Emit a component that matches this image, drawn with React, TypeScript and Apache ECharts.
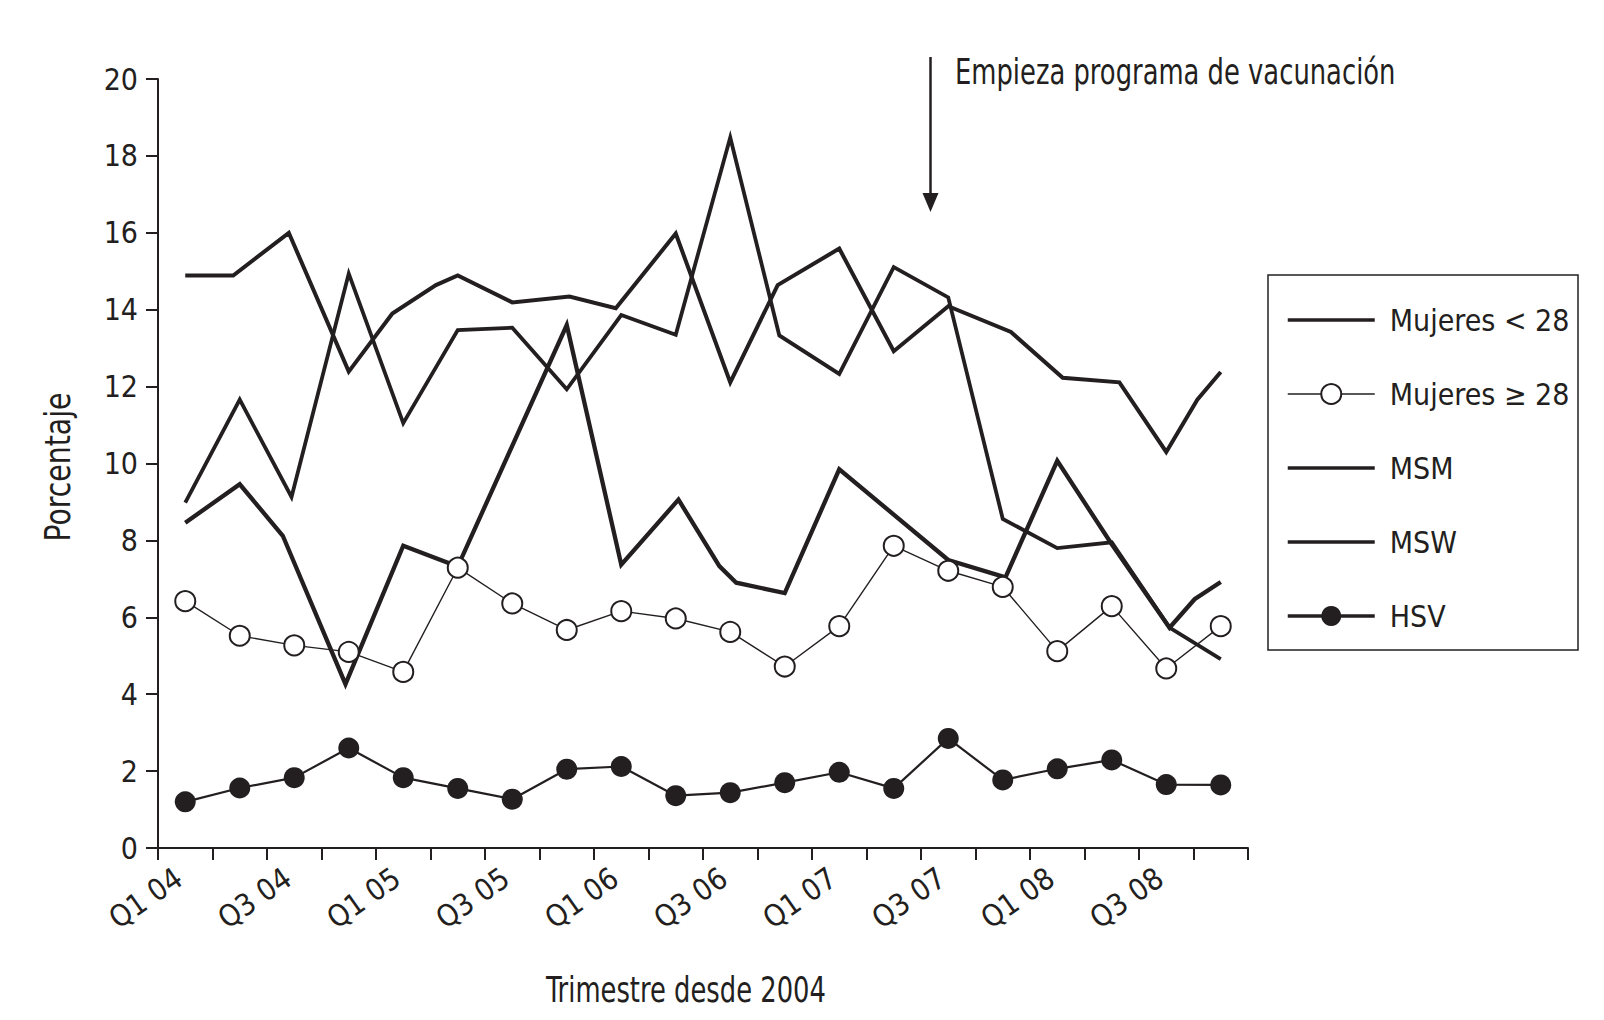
import React, { useEffect, useRef } from 'react';
import * as echarts from 'echarts';

const FONT = '"Liberation Sans Narrow", "Arial Narrow", "DejaVu Sans Condensed", sans-serif';
const INK = '#231f20';

const categories = [
  'Q1 04', 'Q2 04', 'Q3 04', 'Q4 04',
  'Q1 05', 'Q2 05', 'Q3 05', 'Q4 05',
  'Q1 06', 'Q2 06', 'Q3 06', 'Q4 06',
  'Q1 07', 'Q2 07', 'Q3 07', 'Q4 07',
  'Q1 08', 'Q2 08', 'Q3 08', 'Q4 08',
];

const seriesNames = ['Mujeres < 28', 'Mujeres \u2265 28', 'MSM', 'MSW', 'HSV'];

// [quarter index, percentage]
const mujeresMenor28: [number, number][] = [
  [0, 8.98], [1, 11.66], [1.95, 9.13], [3, 14.94], [4, 11.05], [5, 13.47], [6, 13.53],
  [7, 11.93], [8, 13.86], [9, 13.35], [10, 18.48], [10.9, 13.33], [12, 12.33], [13, 15.11],
  [14, 14.32], [15, 8.56], [16, 7.8], [17, 7.95], [18.06, 5.73], [19, 4.91],
];

const mujeresMayor28 = [
  6.42, 5.52, 5.27, 5.1, 4.58, 7.29, 6.36, 5.67, 6.16, 5.97,
  5.62, 4.72, 5.77, 7.86, 7.21, 6.79, 5.12, 6.29, 4.67, 5.77,
];

const msm: [number, number][] = [
  [0, 8.46], [1, 9.46], [1.79, 8.12], [2.94, 4.26], [4, 7.86], [5, 7.32], [7, 13.6],
  [8, 7.37], [9.05, 9.06], [9.8, 7.33], [10.11, 6.9], [11, 6.63], [12, 9.85], [14, 7.49],
  [15.05, 7.04], [16, 10.07], [17, 7.9], [18.06, 5.73], [18.52, 6.47], [19, 6.92],
];

const msw: [number, number][] = [
  [0, 14.89], [0.88, 14.89], [1.9, 16.0], [3, 12.39], [3.8, 13.9], [4.6, 14.64], [5, 14.89],
  [6, 14.19], [7.05, 14.34], [7.9, 14.04], [9, 15.98], [10, 12.11], [10.87, 14.64], [12, 15.59],
  [13, 12.92], [14, 14.09], [15.15, 13.42], [16.1, 12.23], [17.14, 12.11], [18, 10.3],
  [18.57, 11.66], [19, 12.38],
];

const hsv = [
  1.2, 1.56, 1.83, 2.6, 1.83, 1.55, 1.27, 2.05, 2.12, 1.36,
  1.44, 1.7, 1.97, 1.55, 2.85, 1.77, 2.06, 2.29, 1.65, 1.64,
];

const yMin = 0;
const yMax = 20;
const yInterval = 2;

const annotationText = 'Empieza programa de vacunación';
const xTitle = 'Trimestre desde 2004';
const yTitle = 'Porcentaje';

export default function App() {
  const ref = useRef<HTMLDivElement>(null);

  useEffect(() => {
    if (!ref.current) return;
    const chart = echarts.init(ref.current, undefined, { renderer: 'svg' });
    const transparent = 'rgba(0,0,0,0)';
    const plainLine = (name: string, data: [number, number][], width: number) => ({
      name,
      type: 'line',
      xAxisIndex: 1,
      data,
      symbol: 'none',
      lineStyle: { color: INK, width, join: 'miter' },
      itemStyle: { color: transparent },
      z: 2,
    });
    const titleFont = '35px ' + FONT;
    const squeeze = 0.82;

    chart.setOption({
      animation: false,
      backgroundColor: '#fff',
      textStyle: { fontFamily: FONT, color: INK },
      grid: { left: 158, top: 79, width: 1090, height: 769, containLabel: false },
      xAxis: [
        {
          type: 'category',
          data: categories,
          boundaryGap: true,
          axisLine: { show: true, onZero: false, lineStyle: { color: INK, width: 2 } },
          axisTick: { show: true, interval: 0, length: 12, lineStyle: { color: INK, width: 2 } },
          axisLabel: {
            interval: 1,
            rotate: 35,
            margin: 22,
            padding: [0, 8, 0, 0],
            fontSize: 30,
            fontFamily: FONT,
            color: INK,
          },
          splitLine: { show: false },
        },
        {
          type: 'value',
          min: -0.5,
          max: 19.5,
          show: false,
        },
      ],
      yAxis: {
        type: 'value',
        min: yMin,
        max: yMax,
        interval: yInterval,
        axisLine: { show: true, onZero: false, lineStyle: { color: INK, width: 2 } },
        axisTick: { show: true, length: 12, lineStyle: { color: INK, width: 2 } },
        axisLabel: { margin: 20, fontSize: 30, fontFamily: FONT, color: INK },
        splitLine: { show: false },
      },
      legend: {
        orient: 'vertical',
        left: 1281,
        top: 297,
        itemWidth: 87,
        itemHeight: 25,
        itemGap: 38,
        selectedMode: false,
        data: [
          { name: seriesNames[0], lineStyle: { width: 3.5 } },
          { name: seriesNames[1], lineStyle: { width: 1.5 } },
          { name: seriesNames[2], lineStyle: { width: 3.5 } },
          { name: seriesNames[3], lineStyle: { width: 3.5 } },
          { name: seriesNames[4], lineStyle: { width: 3.5 } },
        ],
        textStyle: {
          fontFamily: FONT,
          fontSize: 30,
          color: INK,
          lineHeight: 36,
          padding: [0, 0, 0, 10],
        },
      },
      series: [
        plainLine(seriesNames[0], mujeresMenor28, 3.8),
        {
          name: seriesNames[1],
          type: 'line',
          data: mujeresMayor28,
          symbol: 'emptyCircle',
          symbolSize: 20,
          lineStyle: { color: INK, width: 1.4 },
          itemStyle: { color: INK, borderWidth: 1.7 },
          z: 4,
        },
        plainLine(seriesNames[2], msm, 4.3),
        plainLine(seriesNames[3], msw, 4),
        {
          name: seriesNames[4],
          type: 'line',
          data: hsv,
          symbol: 'circle',
          symbolSize: 21,
          lineStyle: { color: INK, width: 2.2 },
          itemStyle: { color: INK },
          z: 4,
        },
      ],
      graphic: [
        {
          type: 'rect',
          shape: { x: 1268, y: 275, width: 310, height: 375 },
          style: { fill: 'none', stroke: INK, lineWidth: 1.5 },
          silent: true,
        },
        {
          type: 'line',
          shape: { x1: 930.5, y1: 57, x2: 930.5, y2: 196 },
          style: { stroke: INK, lineWidth: 2.5 },
          silent: true,
        },
        {
          type: 'polygon',
          shape: { points: [[922.5, 193], [938.5, 193], [930.5, 212]] },
          style: { fill: INK },
          silent: true,
        },
        {
          type: 'text',
          x: 955,
          y: 72,
          scaleX: squeeze,
          style: {
            text: annotationText,
            font: titleFont,
            fill: INK,
            align: 'left',
            verticalAlign: 'middle',
          },
          silent: true,
        },
        {
          type: 'text',
          x: 686,
          y: 990,
          scaleX: squeeze,
          style: {
            text: xTitle,
            font: titleFont,
            fill: INK,
            align: 'center',
            verticalAlign: 'middle',
          },
          silent: true,
        },
        {
          type: 'text',
          x: 58,
          y: 467,
          rotation: Math.PI / 2,
          scaleX: 0.9,
          style: {
            text: yTitle,
            font: titleFont,
            fill: INK,
            align: 'center',
            verticalAlign: 'middle',
          },
          silent: true,
        },
      ],
    });

    return () => {
      chart.dispose();
    };
  }, []);

  return (
    <div
      ref={ref}
      style={{ position: 'fixed', left: 0, top: 0, width: 1604, height: 1020, background: '#fff' }}
    />
  );
}
